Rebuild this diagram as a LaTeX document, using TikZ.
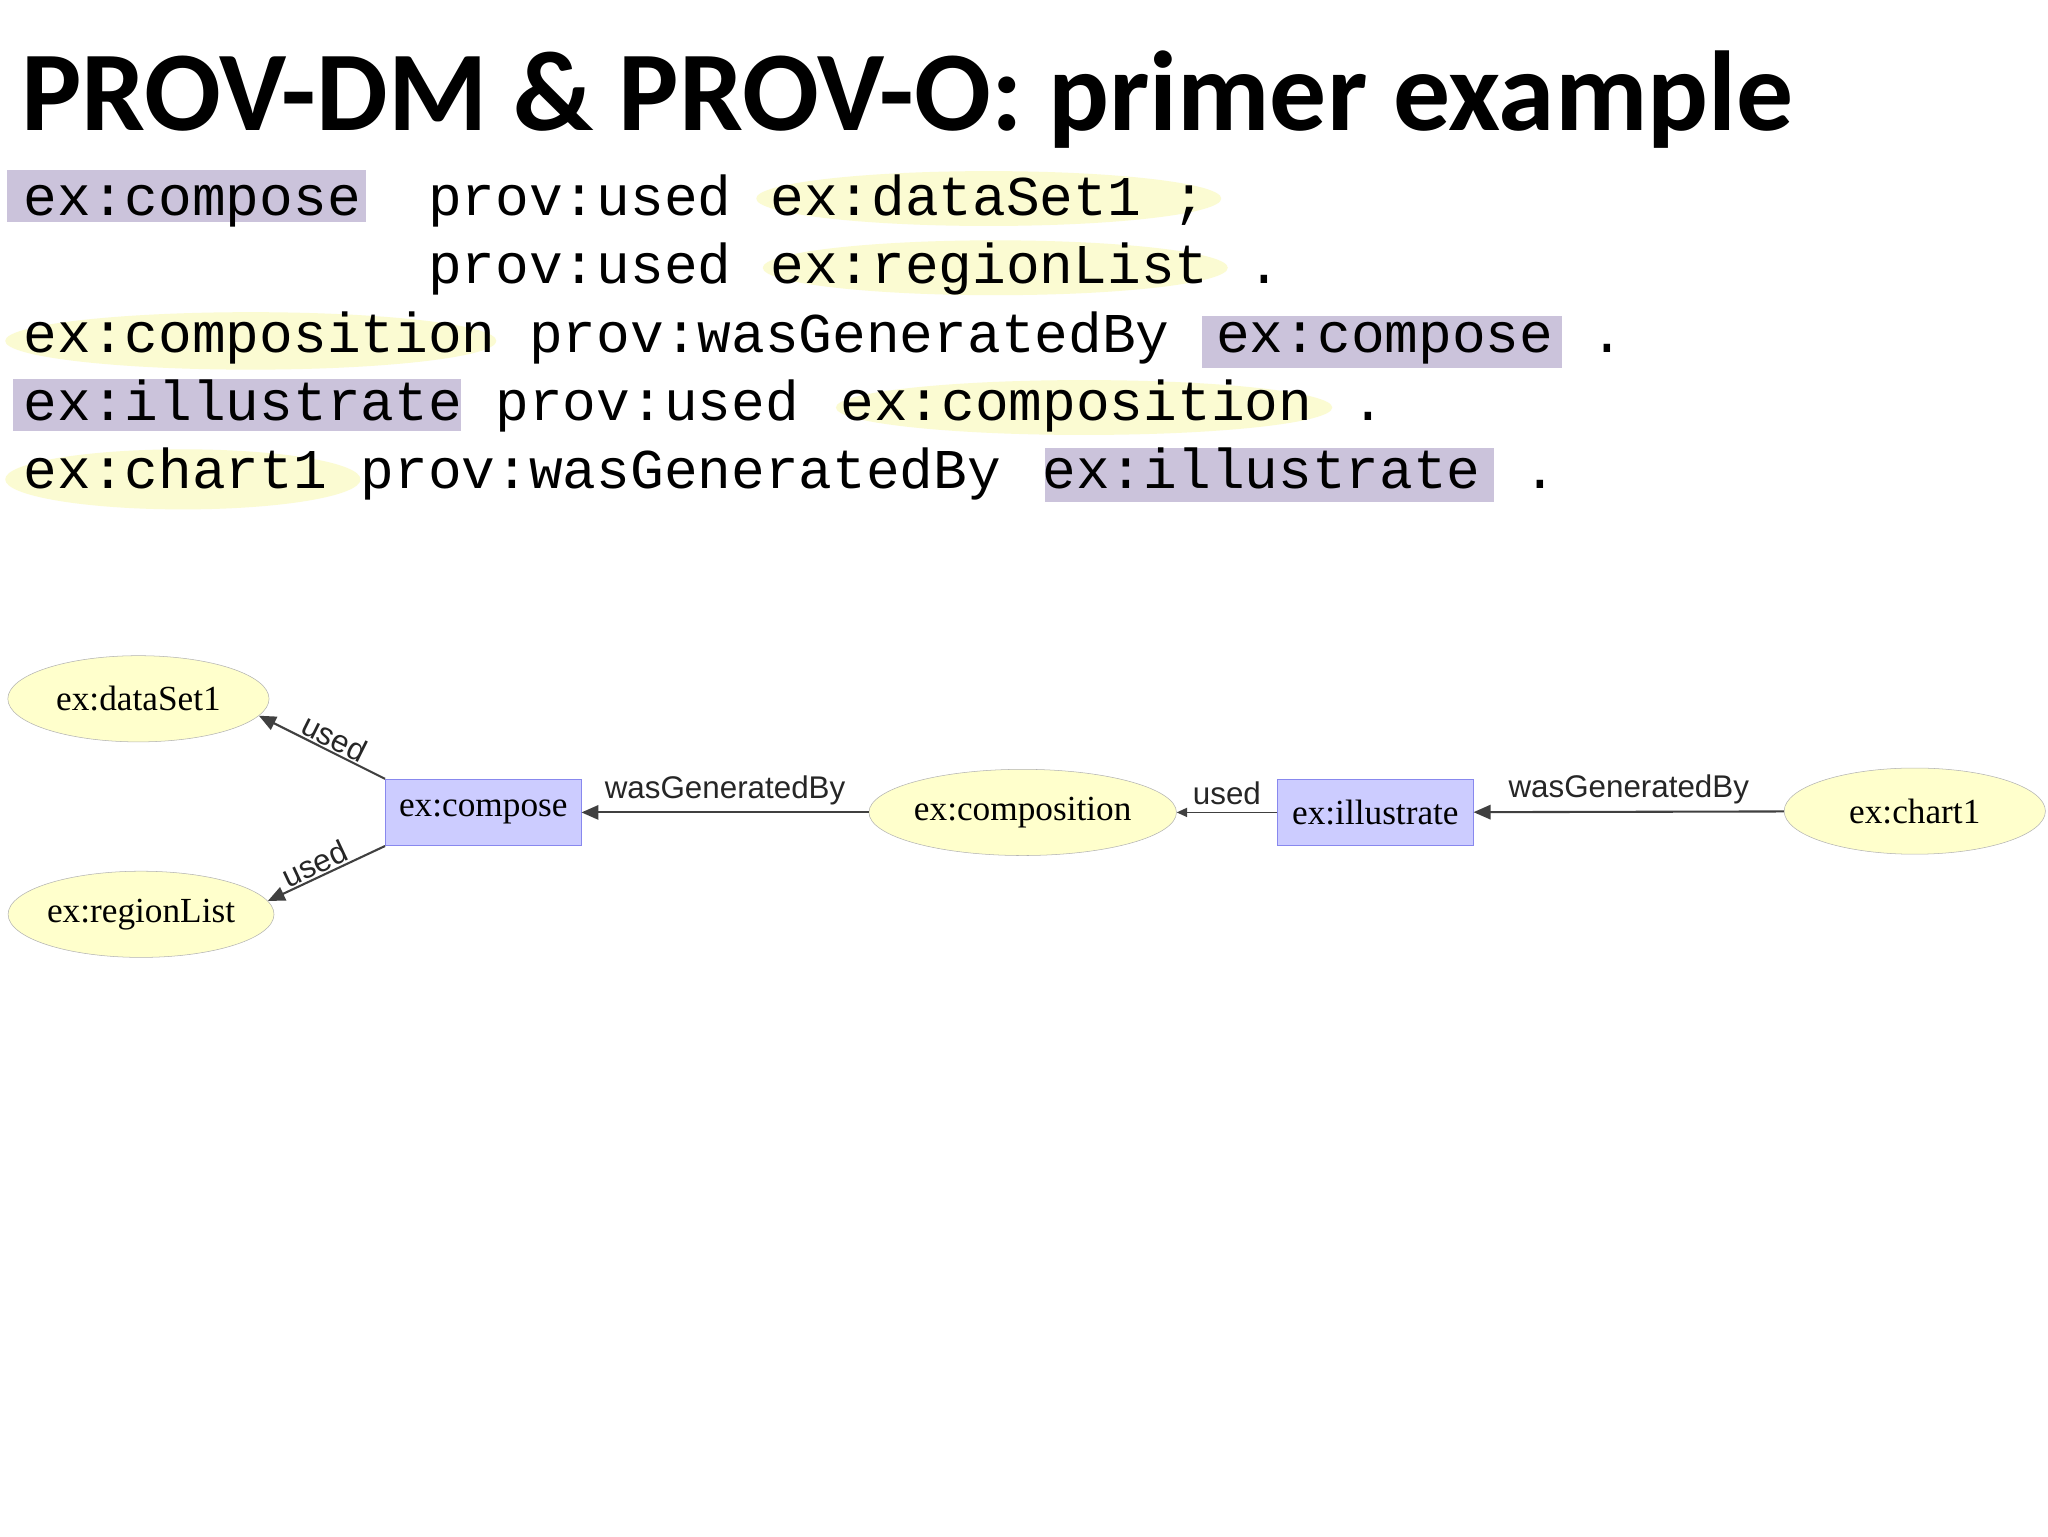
\documentclass[tikz,border=0pt]{standalone}
\usepackage{fontspec}
\setmainfont{Liberation Serif}
\setsansfont{Liberation Sans}
\setmonofont{Liberation Mono}
\newfontfamily\titlefont{Carlito}
\usetikzlibrary{shapes.geometric,arrows.meta}
\definecolor{hlpurple}{HTML}{CBC3DB}
\definecolor{hlyellow}{HTML}{FBFBD2}
\definecolor{entfill}{HTML}{FFFFCC}
\definecolor{actfill}{HTML}{CCCCFF}
\definecolor{actdraw}{HTML}{8888EE}
\begin{document}
\begin{tikzpicture}[x=1pt,y=1pt,
  tok/.style={anchor=base west,inner sep=0pt,font=\fontsize{43}{43}\selectfont\ttfamily},
  ent/.style={ellipse,draw=gray!60,fill=entfill,minimum width=200pt,minimum height=66pt,inner sep=0pt,font=\fontsize{27}{27}\selectfont},
  act/.style={rectangle,draw=actdraw,fill=actfill,minimum width=150pt,minimum height=51pt,inner sep=0pt,font=\fontsize{27}{27}\selectfont},
  rel/.style={draw=black!75,line width=1.6pt,-{Triangle[length=13pt,width=11pt]}},
  lab/.style={font=\fontsize{24}{24}\selectfont\sffamily,text=black!85,inner sep=1pt}]
\useasboundingbox (0,0) rectangle (1568,-1176);
\fill[white] (0,0) rectangle (1568,-1176);
\node[anchor=base west,inner sep=0pt,font=\titlefont\bfseries\fontsize{87}{87}\selectfont] (title) at (16,-100) {PROV-DM \& PROV-O: primer example};
% highlights
\fill[hlpurple] (5,-130) rectangle (280,-170);
\fill[hlpurple] (920,-242) rectangle (1196,-282);
\fill[hlpurple] (10,-290) rectangle (353,-330);
\fill[hlpurple] (800,-343) rectangle (1144,-384);
\fill[hlyellow] (757,-152) ellipse (178 and 21);
\fill[hlyellow] (762,-205) ellipse (178 and 21);
\fill[hlyellow] (192,-261) ellipse (188 and 22);
\fill[hlyellow] (830,-312) ellipse (190 and 21);
\fill[hlyellow] (140,-367) ellipse (136 and 23);
% code tokens
\def\cw{25.8}
\node[tok] (a1) at (18,-165) {ex:compose};
\node[tok] (a2) at (18+12*\cw,-165) {prov:used};
\node[tok] (a3) at (22+22*\cw,-165) {ex:dataSet1};
\node[tok] (a4) at (18+34.1*\cw,-165) {;};
\node[tok] (b2) at (18+12*\cw,-217) {prov:used};
\node[tok] (b3) at (22+22*\cw,-217) {ex:regionList};
\node[tok] (b4) at (18+36.3*\cw,-217) {.};
\node[tok] (c1) at (18,-270) {ex:composition};
\node[tok] (c2) at (18+15*\cw,-270) {prov:wasGeneratedBy};
\node[tok] (c3) at (28+35*\cw,-270) {ex:compose};
\node[tok] (c4) at (18+46.5*\cw,-270) {.};
\node[tok] (d1) at (18,-322) {ex:illustrate};
\node[tok] (d2) at (18+14*\cw,-322) {prov:used};
\node[tok] (d3) at (24+24*\cw,-322) {ex:composition};
\node[tok] (d4) at (18+39.4*\cw,-322) {.};
\node[tok] (e1) at (18,-374) {ex:chart1};
\node[tok] (e2) at (18+10*\cw,-374) {prov:wasGeneratedBy};
\node[tok] (e3) at (24+30*\cw,-374) {ex:illustrate};
\node[tok] (e4) at (18+44.5*\cw,-374) {.};
% diagram
\node[ent] (ds) at (106,-535) {ex:dataSet1};
\node[ent] (rl) at (108,-700) {ex:regionList};
\node[act] (cp) at (370,-622) {ex:compose};
\node[ent] (cm) at (783,-622) {ex:composition};
\node[act] (il) at (1053,-622) {ex:illustrate};
\node[ent] (ch) at (1466,-621) {ex:chart1};
\draw[rel] (cp.north west) -- node[lab,sloped,above,pos=0.45] {used} (ds.-8);
\draw[rel] (cp.south west) -- node[lab,sloped,above,pos=0.55] {used} (rl.6);
\draw[rel] (cm) -- node[lab,above,yshift=4pt] {wasGeneratedBy} (cp);
\draw[rel,line width=1.2pt,-{Triangle[length=8pt,width=7pt]}] (il) -- node[lab,above,yshift=4pt] {used} (cm);
\draw[rel] (ch) -- node[lab,above,yshift=4pt] {wasGeneratedBy} (il);
\end{tikzpicture}
\end{document}
